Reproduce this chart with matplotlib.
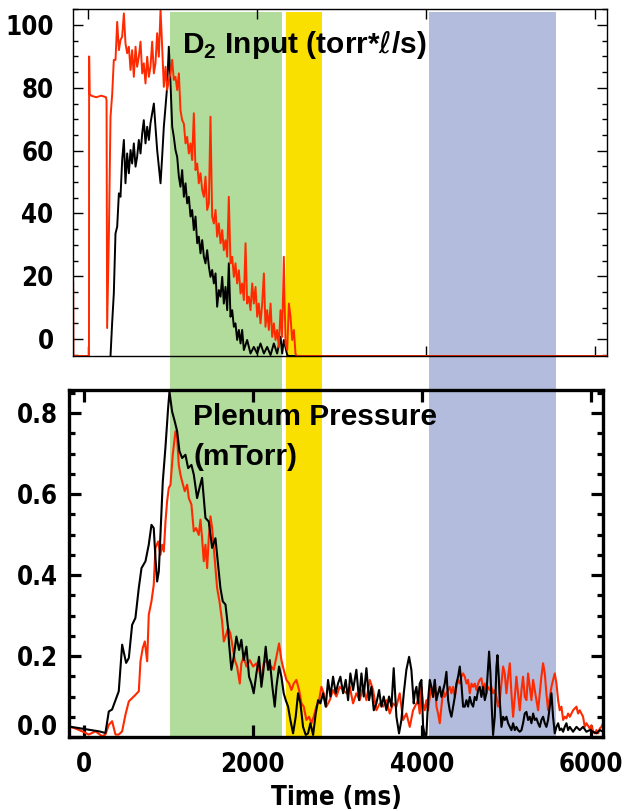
import os
import numpy as np
import matplotlib
matplotlib.use("Agg")
import matplotlib.pyplot as plt
import matplotlib.font_manager as fm
from matplotlib.ticker import MultipleLocator
from matplotlib.transforms import ScaledTranslation

plt.rcParams['mathtext.fontset'] = 'custom'
plt.rcParams['mathtext.rm'] = 'Liberation Sans:bold'
plt.rcParams['mathtext.bf'] = 'Liberation Sans:bold'
plt.rcParams['mathtext.it'] = 'DejaVu Sans:italic'

# --- data ---
# shaded time windows (ms)
band_edges = [(1020, 2340), (2390, 2815), (4085, 5590)]
band_colors = ['#b1dc9b', '#f9e000', '#b3bcdc']

# D2 input (torr*l/s), red shot
top_red_t = [-173, -170, 14, 16, 22, 40, 100, 160, 215, 222, 229, 250, 269, 289, 308, 328,
             348, 368, 387, 407, 427, 446, 466, 486, 506, 525, 545, 565, 584, 604, 624, 644,
             663, 683, 703, 723, 742, 762, 782, 801, 821, 841, 861, 880, 900, 920, 939, 959,
             979, 999, 1018, 1038, 1058, 1078, 1097, 1117, 1137, 1157, 1176, 1196, 1216, 1235,
             1255, 1275, 1295, 1314, 1334, 1354, 1374, 1393, 1413, 1433, 1452, 1472, 1492, 1512,
             1531, 1551, 1571, 1591, 1610, 1630, 1650, 1669, 1689, 1709, 1729, 1748, 1768, 1788,
             1808, 1827, 1847, 1867, 1886, 1906, 1926, 1946, 1965, 1985, 2005, 2024, 2044, 2064,
             2084, 2103, 2123, 2143, 2163, 2182, 2202, 2222, 2241, 2261, 2281, 2301, 2320, 2340,
             2360, 2380, 2399, 2419, 2439, 2458, 2470, 6150]
top_red = [18, -5.4, -5.4, 90, 78, 77.5, 77, 77.5, 77, 76, 3.5, 33.7, 70.8, 78, 88.9, 88.9,
           101, 92, 95.2, 96.3, 103.7, 94.2, 91, 93.1, 85.7, 92, 83.5, 93.1, 86.7, 89.9, 94.7, 84.6,
           87.8, 81.4, 89.9, 83.5, 86.7, 94.7, 84.6, 87.8, 97.4, 89.9, 104.8, 93.1, 80.3, 86.7, 79.3, 82.5,
           84.6, 88.9, 82.5, 83.5, 79.3, 84.6, 72.9, 69.7, 68.6, 62.3, 64.4, 59.1, 62.3, 57,
           71.9, 53.8, 55.9, 49.6, 52.8, 47.5, 45.3, 51.7, 41.1, 43.2, 70.8, 39, 36.8, 41.1,
           32.6, 36.8, 30.5, 34.7, 28.3, 31.5, 26.2, 45.3, 24.1, 26.2, 19.8, 24.1, 17.7, 21.9,
           14.5, 17.7, 12.4, 30.5, 11.3, 13.5, 9.2, 17.7, 11.3, 16.6, 7.1, 11.3, 5.0, 11.3,
           20.9, 3.9, 9.2, 2.9, 11.3, 0.7, 5.0, -0.3, 2.9, -2.5, 9.2, 0.7, 26.2, -1.4,
           -3.5, 11.3, 7.1, -0.3, 2.9, -4.6, -5.4, -5.4]

# D2 input, black shot
top_blk_t = [269, 288, 308, 328, 348, 368, 387, 407, 427, 446, 466, 486, 506, 525, 545, 565,
             584, 604, 624, 644, 663, 683, 703, 723, 742, 762, 782, 801, 821, 841, 861, 880,
             900, 920, 939, 959, 979, 999, 1018, 1038, 1058, 1078, 1097, 1117, 1137, 1157, 1176,
             1196, 1216, 1235, 1255, 1275, 1295, 1314, 1334, 1354, 1374, 1393, 1413, 1433, 1452,
             1472, 1492, 1512, 1531, 1551, 1571, 1591, 1610, 1630, 1650, 1669, 1689, 1709, 1729,
             1748, 1768, 1788, 1808, 1827, 1847, 1886, 1926, 1965, 2005, 2044, 2084, 2123, 2163,
             2202, 2241, 2281, 2301, 2320, 2360, 2380, 6150]
top_blk = [-5.4, 5, 14.5, 33.6, 35.8, 46.4, 45.3, 57, 63.4, 49.6, 59.1, 52.8, 60.2, 55.9, 62.3, 54.9,
           58, 63.4, 59.1, 65.5, 69.7, 62.3, 67.6, 63.4, 68.7, 71.9, 75, 67.6, 60.2, 54.9, 49.6, 58,
           67.6, 74, 80.3, 93.1, 81.4, 67.6, 64.4, 60.2, 58.0, 51.7, 48.5, 53.8, 45.3, 49.6, 43.2,
           45.3, 39.0, 41.1, 34.7, 39.0, 30.5, 32.6, 27.3, 31.5, 26.2, 24.1, 28.3, 23.1, 19.8,
           22.0, 17.7, 20.9, 10.3, 15.6, 13.5, 19.8, 11.3, 16.6, 9.2, 24.1, 7.1, 9.2, 3.9,
           5.0, -0.3, 2.9, -1.4, 2.9, -3.5, -0.3, -4.6, -2.5, -4.6, -1.4, -4.6, -2.5, -5.1,
           -1.4, -4.6, 0.7, -4.6, -0.3, -5.1, -5.4, -5.4]

# plenum pressure (mTorr), red shot
bot_red_t = [-178, -99, -20, 59, 138, 217, 256, 296, 335, 375, 414, 454, 493, 533, 572, 611,
             651, 671, 698, 722, 750, 769, 801, 828, 848, 880, 907, 927, 947, 967, 986, 1006,
             1026, 1053, 1085, 1105, 1124, 1144, 1164, 1195, 1223, 1243, 1274, 1302, 1329, 1361,
             1381, 1400, 1420, 1440, 1460, 1479, 1499, 1519, 1558, 1578, 1606, 1637, 1657, 1685,
             1708, 1735, 1767, 1787, 1814, 1846, 1865, 1893, 1925, 1964, 2004, 2043, 2074, 2102,
             2130, 2161, 2193, 2220, 2248, 2280, 2311, 2339, 2366, 2398, 2430, 2457, 2485, 2516,
             2548, 2576, 2603, 2635, 2666, 2694, 2721, 2753, 2785, 2812, 2840, 2871, 2911, 2950,
             2990, 3029, 3069, 3108, 3148, 3187, 3226, 3266, 3305, 3345, 3385, 3424, 3463, 3503,
             3542, 3582, 3621, 3661, 3700, 3739, 3779, 3818, 3858, 3897, 3937, 3957, 3976, 3996,
             4016, 4036, 4055, 4075, 4095, 4114, 4134, 4154, 4174, 4193, 4213, 4233, 4253, 4272,
             4292, 4312, 4331, 4351, 4371, 4391, 4410, 4430, 4450, 4469, 4489, 4509, 4529, 4548,
             4568, 4588, 4608, 4627, 4647, 4667, 4686, 4706, 4726, 4746, 4765, 4785, 4805, 4824,
             4844, 4864, 4884, 4903, 4923, 4943, 4963, 4982, 5002, 5022, 5042, 5061, 5081, 5101,
             5120, 5140, 5160, 5180, 5199, 5219, 5239, 5258, 5278, 5298, 5318, 5337, 5357, 5377,
             5397, 5416, 5436, 5456, 5475, 5495, 5515, 5535, 5554, 5574, 5594, 5614, 5633, 5653,
             5673, 5692, 5712, 5732, 5752, 5791, 5831, 5850, 5870, 5909, 5929, 5949, 5988, 6008,
             6028, 6047, 6067, 6087, 6107, 6126, 6146]
bot_red = [0.026, 0.021, 0.014, 0.006, 0.014, 0.002, 0.006, 0.030, 0.039, 0.006, 0.006, 0.014, 0.055, 0.088, 0.096, 0.104,
           0.113, 0.187, 0.220, 0.236, 0.187, 0.302, 0.335, 0.376, 0.467, 0.483, 0.450, 0.475, 0.458, 0.532, 0.582, 0.615,
           0.623, 0.697, 0.755, 0.738, 0.672, 0.648, 0.631, 0.607, 0.623, 0.590, 0.574, 0.508, 0.516, 0.499,
           0.537, 0.491, 0.434, 0.475, 0.417, 0.491, 0.545, 0.516, 0.417, 0.368, 0.335, 0.286, 0.236, 0.253,
           0.269, 0.256, 0.215, 0.190, 0.174, 0.132, 0.182, 0.198, 0.174, 0.190, 0.174, 0.182, 0.166, 0.141,
           0.182, 0.190, 0.166, 0.174, 0.166, 0.198, 0.231, 0.190, 0.166, 0.141, 0.132, 0.116, 0.132, 0.141,
           0.116, 0.083, 0.075, 0.042, 0.050, 0.034, 0.050, 0.075, 0.091, 0.124, 0.108, 0.075, 0.091, 0.116,
           0.100, 0.124, 0.116, 0.108, 0.124, 0.083, 0.108, 0.091, 0.124, 0.091, 0.141, 0.116, 0.066, 0.083,
           0.075, 0.091, 0.058, 0.083, 0.075, 0.108, 0.042, 0.058, 0.025, 0.066, 0.083, 0.091, 0.058, 0.124,
           0.083, 0.066, 0.091, 0.066, 0.099, 0.124, 0.099, 0.141, 0.075, 0.058, 0.034, 0.075, 0.116, 0.099,
           0.108, 0.116, 0.124, 0.108, 0.124, 0.099, 0.124, 0.141, 0.132, 0.149, 0.157, 0.149, 0.132, 0.141,
           0.108, 0.132, 0.124, 0.132, 0.116, 0.132, 0.141, 0.145, 0.116, 0.132, 0.108, 0.124, 0.116, 0.124,
           0.108, 0.116, 0.099, 0.075, 0.091, 0.132, 0.174, 0.157, 0.108, 0.149, 0.182, 0.108, 0.050, 0.099,
           0.149, 0.108, 0.066, 0.116, 0.149, 0.099, 0.091, 0.157, 0.124, 0.091, 0.141, 0.116, 0.091, 0.066,
           0.108, 0.149, 0.182, 0.157, 0.108, 0.066, 0.099, 0.124, 0.141, 0.157, 0.132, 0.091, 0.066, 0.075,
           0.042, 0.050, 0.046, 0.058, 0.050, 0.066, 0.075, 0.058, 0.066, 0.050, 0.025, 0.034, 0.021, 0.029,
           0.013, 0.009, 0.017, 0.009, 0.021, 0.025, 0.034]

# plenum pressure, black shot
bot_blk_t = [-178, -59, 59, 178, 256, 296, 335, 414, 454, 501, 533, 572, 611, 651, 683, 730,
             769, 801, 828, 848, 868, 888, 907, 935, 966, 998, 1014, 1045, 1077, 1105, 1132, 1164,
             1203, 1235, 1274, 1302, 1341, 1369, 1400, 1440, 1479, 1519, 1558, 1590, 1617, 1645,
             1677, 1708, 1719, 1747, 1775, 1806, 1838, 1865, 1893, 1925, 1956, 1984, 2011, 2043,
             2074, 2102, 2122, 2153, 2181, 2201, 2232, 2260, 2280, 2311, 2339, 2366, 2390, 2418,
             2445, 2477, 2508, 2536, 2564, 2595, 2627, 2654, 2682, 2714, 2745, 2773, 2800, 2832,
             2863, 2891, 2919, 2950, 2982, 3009, 3037, 3069, 3100, 3128, 3155, 3187, 3226, 3258,
             3286, 3313, 3345, 3376, 3404, 3432, 3463, 3495, 3522, 3550, 3582, 3613, 3641, 3668,
             3700, 3731, 3759, 3787, 3818, 3850, 3877, 3905, 3917, 3937, 3957, 3976, 3996, 4016,
             4036, 4055, 4075, 4095, 4114, 4134, 4154, 4174, 4193, 4213, 4233, 4253, 4272, 4292,
             4312, 4331, 4351, 4371, 4391, 4410, 4430, 4450, 4469, 4489, 4509, 4529, 4548, 4568,
             4588, 4608, 4627, 4647, 4667, 4686, 4706, 4726, 4746, 4765, 4785, 4797, 4813, 4828,
             4844, 4864, 4884, 4896, 4911, 4923, 4943, 4963, 4982, 5002, 5022, 5042, 5061, 5081,
             5101, 5120, 5140, 5160, 5180, 5199, 5219, 5239, 5258, 5278, 5298, 5318, 5337, 5357,
             5377, 5397, 5416, 5436, 5456, 5475, 5495, 5515, 5535, 5554, 5574, 5594, 5614, 5633,
             5653, 5673, 5692, 5712, 5732, 5752, 5791, 5831, 5870, 5909, 5949, 5988, 6028, 6067,
             6107, 6146]
bot_blk = [0.026, 0.022, 0.018, 0.014, 0.010, 0.063, 0.068, 0.113, 0.228, 0.183, 0.195, 0.277, 0.294, 0.368, 0.417, 0.434,
           0.475, 0.524, 0.516, 0.442, 0.384, 0.409, 0.499, 0.631, 0.714, 0.812, 0.853, 0.804, 0.779, 0.755, 0.706, 0.689,
           0.697, 0.664, 0.672, 0.648, 0.590, 0.615, 0.640, 0.541, 0.532, 0.467, 0.491, 0.425, 0.368, 0.335,
           0.327, 0.269, 0.231, 0.166, 0.198, 0.248, 0.215, 0.240, 0.190, 0.223, 0.149, 0.132, 0.108, 0.157,
           0.198, 0.124, 0.157, 0.223, 0.166, 0.190, 0.124, 0.075, 0.124, 0.174, 0.149, 0.108, 0.091, 0.075,
           0.042, 0.009, 0.050, 0.108, 0.083, 0.025, 0.005, 0.009, 0.034, 0.005, 0.058, 0.091, 0.083, 0.108,
           0.075, 0.141, 0.100, 0.149, 0.108, 0.132, 0.149, 0.108, 0.141, 0.091, 0.157, 0.116, 0.166, 0.091,
           0.157, 0.100, 0.170, 0.091, 0.124, 0.066, 0.083, 0.116, 0.075, 0.100, 0.066, 0.100, 0.075, 0.170,
           0.050, 0.009, 0.042, 0.108, 0.166, 0.198, 0.166, 0.083, 0.108, 0.124, 0.083, 0.132, 0.141, 0.025,
           0.005, 0.005, 0.091, 0.141, 0.124, 0.099, 0.141, 0.091, 0.108, 0.124, 0.099, 0.116, 0.132, 0.161,
           0.091, 0.066, 0.050, 0.075, 0.099, 0.132, 0.149, 0.174, 0.132, 0.075, 0.075, 0.091, 0.075, 0.099,
           0.083, 0.075, 0.099, 0.091, 0.116, 0.124, 0.099, 0.124, 0.091, 0.108, 0.174, 0.211, 0.157, 0.075,
           0.005, 0.050, 0.174, 0.202, 0.149, 0.091, 0.025, 0.050, 0.042, 0.050, 0.034, 0.025, 0.017, 0.034,
           0.017, 0.025, 0.017, 0.013, 0.017, 0.034, 0.058, 0.062, 0.042, 0.050, 0.034, 0.058, 0.042, 0.046,
           0.034, 0.025, 0.042, 0.050, 0.034, 0.025, 0.042, 0.075, 0.108, 0.050, 0.009, 0.025, 0.034, 0.017,
           0.021, 0.013, 0.025, 0.034, 0.017, 0.025, 0.013, 0.025, 0.017, 0.025, 0.013, 0.017, 0.013, 0.009,
           0.017, 0.013]

xticks = [0, 2000, 4000, 6000]
xlim = (-175, 6145)

red = '#ff2a00'


def narrow_bold_file():
    # look for a condensed bold sans among the installed fonts
    prefs = ['liberationsansnarrow-bold.', 'dejavusanscondensed-bold.', 'robotocondensed-bold.',
             'notosans-condensedbold.', 'opensans-condensedbold.', 'opensanscondensed-bold.']
    files = [f.fname for f in fm.fontManager.ttflist]
    for p in prefs:
        for f in files:
            if os.path.basename(f).lower().replace(' ', '').startswith(p):
                return f
    for f in fm.fontManager.ttflist:
        w = f.weight if isinstance(f.weight, int) else fm.weight_dict.get(f.weight, 400)
        tag = (f.name + ' ' + os.path.basename(f.fname)).lower()
        if w >= 600 and ('italic' not in tag and 'oblique' not in tag) and \
                ('narrow' in tag or 'condensed' in tag or f.stretch in ('condensed', 'semi-condensed')):
            return f.fname
    return None


nf = narrow_bold_file()
if nf:
    tick_font = fm.FontProperties(fname=nf, size=18.5)
else:
    tick_font = fm.FontProperties(family='Liberation Sans', weight='bold', size=17)

W, H = 626, 811
fig = plt.figure(figsize=(W / 100, H / 100), dpi=100)


def frac(left, top, right, bottom):
    return [left / W, 1 - bottom / H, (right - left) / W, (bottom - top) / H]


# background axes holding the shaded windows, spanning both panels
bg = fig.add_axes(frac(69, 12, 603, 737), zorder=0)
bg.set_xlim(xlim)
bg.set_ylim(0, 1)
for (a, b), c in zip(band_edges, band_colors):
    bg.axvspan(a, b, color=c, lw=0)
bg.axis('off')

# top panel: D2 input
ax1 = fig.add_axes(frac(73, 9, 607, 356), zorder=1)
ax1.patch.set_visible(False)
ax1.plot(top_blk_t, top_blk, color='black', lw=1.4)
ax1.plot(top_red_t, top_red, color=red, lw=1.4)
ax1.set_xlim(xlim)
ax1.set_ylim(-5.4, 105.1)
ax1.set_xticks(xticks)
ax1.set_yticks([0, 20, 40, 60, 80, 100])
ax1.yaxis.set_minor_locator(MultipleLocator(5))
ax1.tick_params(which='both', direction='in', top=True, right=True, width=1.0,
                labelbottom=False)
ax1.tick_params(which='major', length=7.5)
ax1.tick_params(which='minor', length=3.6)
ax1.tick_params(axis='y', pad=14)
for s in ax1.spines.values():
    s.set_linewidth(1.0)
for lab in ax1.get_yticklabels():
    lab.set_fontproperties(tick_font)

# bottom panel: plenum pressure
ax2 = fig.add_axes(frac(69, 390, 603, 737), zorder=1)
ax2.patch.set_visible(False)
ax2.plot(bot_red_t, bot_red, color=red, lw=1.5)
ax2.plot(bot_blk_t, bot_blk, color='black', lw=1.5)
ax2.set_xlim(xlim)
ax2.set_ylim(0, 0.857)
ax2.set_xticks(xticks)
ax2.set_yticks([0.0, 0.2, 0.4, 0.6, 0.8])
ax2.set_yticklabels(['0.0', '0.2', '0.4', '0.6', '0.8'])
ax2.yaxis.set_minor_locator(MultipleLocator(0.05))
ax2.tick_params(which='both', direction='in', top=True, right=True, width=2.3)
ax2.tick_params(which='major', length=8.5)
ax2.tick_params(which='minor', length=4)
ax2.tick_params(axis='y', pad=8)
ax2.tick_params(axis='x', pad=11)
for s in ax2.spines.values():
    s.set_linewidth(2.4)
for lab in ax2.get_yticklabels() + ax2.get_xticklabels():
    lab.set_fontproperties(tick_font)
ax2.set_xlabel('Time (ms)', fontproperties=tick_font, labelpad=5)

# the 0.0 label sits a little above its tick
zero_lab = ax2.yaxis.get_major_ticks()[0].label1
zero_lab.set_transform(zero_lab.get_transform() + ScaledTranslation(0, 12 / 100, fig.dpi_scale_trans))

# panel titles
title_font = dict(family=['Liberation Sans', 'DejaVu Sans'], weight='bold', size=21.5)
fig.text(182 / W, 1 - 53 / H, r'D$_\mathbf{2}$ Input (torr*$\ell$/s)', va='baseline', **title_font)
fig.text(193 / W, 1 - 425 / H, 'Plenum Pressure', va='baseline', **title_font)
fig.text(194 / W, 1 - 465 / H, '(mTorr)', va='baseline', **title_font)

fig.savefig('out.png', dpi=100)
